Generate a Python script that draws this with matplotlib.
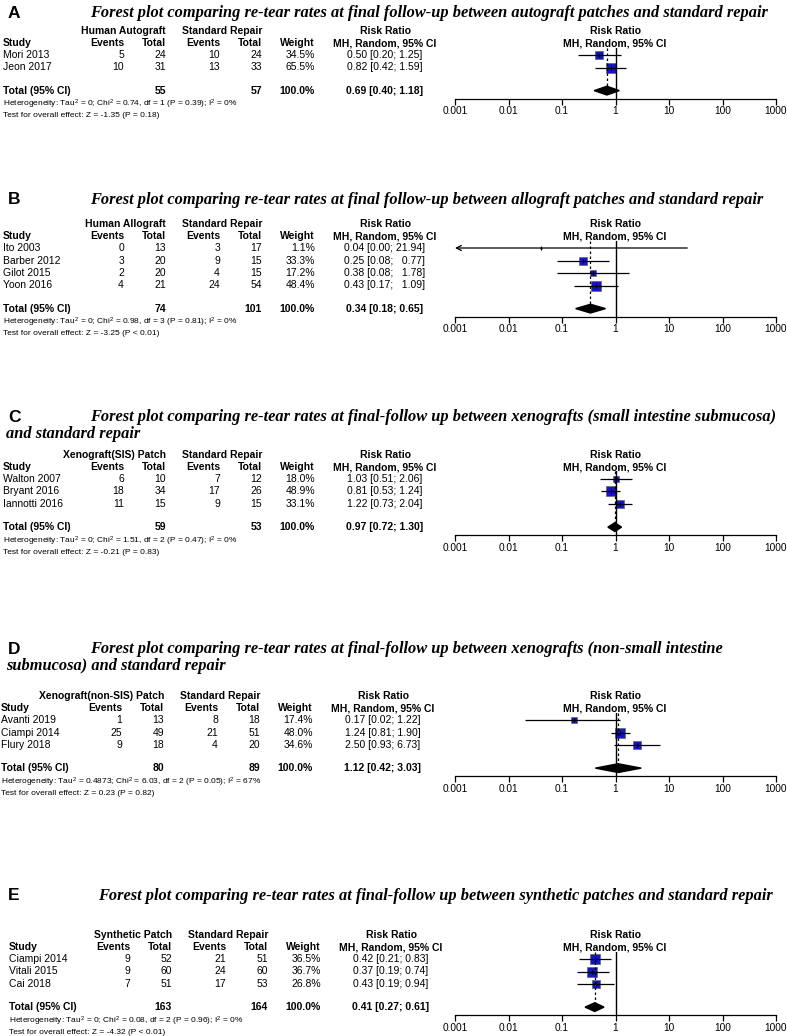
import numpy as np
import matplotlib.pyplot as plt
from matplotlib.transforms import Affine2D, blended_transform_factory
from matplotlib.ticker import NullLocator

# ---- values ----
# A: autograft vs standard repair
a_study = ["Mori 2013", "Jeon 2017"]
a_ev_exp = [5, 10]
a_n_exp = [24, 31]
a_ev_ctl = [10, 13]
a_n_ctl = [24, 33]
a_weight = [34.5, 65.5]
a_rr = [0.50, 0.82]
a_lo = [0.20, 0.42]
a_hi = [1.25, 1.59]
a_tot_n = [55, 57]
a_tot_ci = [0.69, 0.40, 1.18]
a_het = "Heterogeneity: Tau$^2$ = 0; Chi$^2$ = 0.74, df = 1 (P = 0.39); I$^2$ = 0%"
a_test = "Test for overall effect: Z = -1.35 (P = 0.18)"

# B: allograft vs standard repair
b_study = ["Ito 2003", "Barber 2012", "Gilot 2015", "Yoon 2016"]
b_ev_exp = [0, 3, 2, 4]
b_n_exp = [13, 20, 20, 21]
b_ev_ctl = [3, 9, 4, 24]
b_n_ctl = [17, 15, 15, 54]
b_weight = [1.1, 33.3, 17.2, 48.4]
b_rr = [0.04, 0.25, 0.38, 0.43]
b_lo = [0.00, 0.08, 0.08, 0.17]
b_hi = [21.94, 0.77, 1.78, 1.09]
b_tot_n = [74, 101]
b_tot_ci = [0.34, 0.18, 0.65]
b_het = "Heterogeneity: Tau$^2$ = 0; Chi$^2$ = 0.98, df = 3 (P = 0.81); I$^2$ = 0%"
b_test = "Test for overall effect: Z = -3.25 (P < 0.01)"

# C: SIS xenograft vs standard repair
c_study = ["Walton 2007", "Bryant 2016", "Iannotti 2016"]
c_ev_exp = [6, 18, 11]
c_n_exp = [10, 34, 15]
c_ev_ctl = [7, 17, 9]
c_n_ctl = [12, 26, 15]
c_weight = [18.0, 48.9, 33.1]
c_rr = [1.03, 0.81, 1.22]
c_lo = [0.51, 0.53, 0.73]
c_hi = [2.06, 1.24, 2.04]
c_tot_n = [59, 53]
c_tot_ci = [0.97, 0.72, 1.30]
c_het = "Heterogeneity: Tau$^2$ = 0; Chi$^2$ = 1.51, df = 2 (P = 0.47); I$^2$ = 0%"
c_test = "Test for overall effect: Z = -0.21 (P = 0.83)"

# D: non-SIS xenograft vs standard repair
d_study = ["Avanti 2019", "Ciampi 2014", "Flury 2018"]
d_ev_exp = [1, 25, 9]
d_n_exp = [13, 49, 18]
d_ev_ctl = [8, 21, 4]
d_n_ctl = [18, 51, 20]
d_weight = [17.4, 48.0, 34.6]
d_rr = [0.17, 1.24, 2.50]
d_lo = [0.02, 0.81, 0.93]
d_hi = [1.22, 1.90, 6.73]
d_tot_n = [80, 89]
d_tot_ci = [1.12, 0.42, 3.03]
d_het = "Heterogeneity: Tau$^2$ = 0.4873; Chi$^2$ = 6.03, df = 2 (P = 0.05); I$^2$ = 67%"
d_test = "Test for overall effect: Z = 0.23 (P = 0.82)"

# E: synthetic patch vs standard repair
e_study = ["Ciampi 2014", "Vitali 2015", "Cai 2018"]
e_ev_exp = [9, 9, 7]
e_n_exp = [52, 60, 51]
e_ev_ctl = [21, 24, 17]
e_n_ctl = [51, 60, 53]
e_weight = [36.5, 36.7, 26.8]
e_rr = [0.42, 0.37, 0.43]
e_lo = [0.21, 0.19, 0.19]
e_hi = [0.83, 0.74, 0.94]
e_tot_n = [163, 164]
e_tot_ci = [0.41, 0.27, 0.61]
e_het = "Heterogeneity: Tau$^2$ = 0; Chi$^2$ = 0.08, df = 2 (P = 0.96); I$^2$ = 0%"
e_test = "Test for overall effect: Z = -4.32 (P < 0.01)"

ticks = [0.001, 0.01, 0.1, 1, 10, 100, 1000]
tick_labels = ["0.001", "0.01", "0.1", "1", "10", "100", "1000"]

plt.rcParams['font.family'] = 'Liberation Sans'
plt.rcParams['mathtext.fontset'] = 'custom'
plt.rcParams['mathtext.rm'] = 'Liberation Sans'
plt.rcParams['mathtext.it'] = 'Liberation Sans:italic'
plt.rcParams['mathtext.bf'] = 'Liberation Sans:bold'
plt.rcParams['mathtext.default'] = 'regular'

W, H = 787, 1036
SP = 12.5          # row height in pixels
FS = 7.5           # table font size
fig = plt.figure(figsize=(W / 100, H / 100), dpi=100)
pix = Affine2D().scale(1 / W, -1 / H).translate(0, 1) + fig.transFigure


def panel(letter, title, ty, y0, group, study, ev_e, n_e, ev_c, n_c, weight,
          rr, lo, hi, tot_n, tot_ci, het, test, dx=0, tx=90, tsize=11.75):
    n = len(study)
    yt = n + 0.85
    ybot = yt + 0.65
    top_px = y0 - 0.6 * SP
    bot_px = y0 + ybot * SP
    ax = fig.add_axes([455 / W, 1 - bot_px / H, 321 / W, (bot_px - top_px) / H])
    ax.set_xscale('log')
    ax.set_xlim(1e-3, 1e3)
    ax.set_ylim(ybot, -0.6)
    tr = blended_transform_factory(pix, ax.transData)

    # title
    fig.text(8, ty, letter, transform=pix, fontsize=12.5, fontweight='bold', va='center')
    for k, line in enumerate(title):
        fig.text(tx if k == 0 else 6, ty + 17 * k, line, transform=pix, va='center',
                 family='Liberation Serif', fontweight='bold', style='italic', fontsize=tsize)

    # column x positions (pixels)
    xs, xe, xn, xce, xcn, xw, xci = 3 + dx, 124 + dx, 166 + dx, 220 + dx, 262 + dx, 315 + dx, 385 + dx

    def t(x, y, s, ha='right', bold=False, size=FS):
        fig.text(x, y, s, transform=tr, ha=ha, va='center', fontsize=size,
                 fontweight='bold' if bold else 'normal')

    # headers
    t(xn, -1.9, group, bold=True)
    t(xcn, -1.9, "Standard Repair", bold=True)
    t(xci, -1.9, "Risk Ratio", ha='center', bold=True)
    t(615, -1.9, "Risk Ratio", ha='center', bold=True)
    t(xs, -0.95, "Study", ha='left', bold=True)
    t(xe, -0.95, "Events", bold=True)
    t(xn, -0.95, "Total", bold=True)
    t(xce, -0.95, "Events", bold=True)
    t(xcn, -0.95, "Total", bold=True)
    t(xw, -0.95, "Weight", bold=True)
    t(xci, -0.95, "MH, Random, 95% CI", ha='center', bold=True)
    t(615, -0.95, "MH, Random, 95% CI", ha='center', bold=True)

    hw = max(len(f"{h:.2f}") for h in hi)
    wmax = max(weight)
    for i in range(n):
        t(xs, i, study[i], ha='left')
        t(xe, i, str(ev_e[i]))
        t(xn, i, str(n_e[i]))
        t(xce, i, str(ev_c[i]))
        t(xcn, i, str(n_c[i]))
        t(xw, i, f"{weight[i]:.1f}%")
        hs = f"{hi[i]:.2f}"
        t(xci, i, f"{rr[i]:.2f} [{lo[i]:.2f}; " + "  " * (hw - len(hs)) + hs + "]", ha='center')

        # CI line / arrow
        if lo[i] < 1e-3:
            ax.annotate('', xy=(1e-3, i), xytext=(min(hi[i], 1e3), i), annotation_clip=False,
                        arrowprops=dict(arrowstyle='->', lw=0.9, color='black',
                                        shrinkA=0, shrinkB=0, mutation_scale=9), zorder=3)
        else:
            ax.hlines(i, lo[i], hi[i], color='black', lw=0.9, zorder=3)
        side = 10 * np.sqrt(weight[i] / wmax) * 0.72
        ax.plot(rr[i], i, marker='s', ms=side, mfc='#1414c8', mec='#666666', mew=0.5,
                zorder=2, clip_on=False)
        ax.plot(rr[i], i, marker='|', ms=2.5, color='black', mew=0.8, zorder=4, clip_on=False)

    # totals
    t(xs, yt, "Total (95% CI)", ha='left', bold=True)
    t(xn, yt, str(tot_n[0]), bold=True)
    t(xcn, yt, str(tot_n[1]), bold=True)
    t(xw, yt, "100.0%", bold=True)
    t(xci, yt, f"{tot_ci[0]:.2f} [{tot_ci[1]:.2f}; {tot_ci[2]:.2f}]", ha='center', bold=True)
    t(xs, yt + 1.1, het, ha='left', size=6.0)
    t(xs, yt + 2.0, test, ha='left', size=6.0)

    ax.axvline(1, color='black', lw=1)
    ax.plot([tot_ci[0], tot_ci[0]], [-0.6, yt - 0.35], color='black', lw=0.9,
            ls=(0, (2, 2)))
    ax.fill([tot_ci[1], tot_ci[0], tot_ci[2], tot_ci[0]],
            [yt, yt - 0.35, yt, yt + 0.35], color='black', zorder=5)

    ax.set_xticks(ticks)
    ax.set_xticklabels(tick_labels)
    ax.xaxis.set_minor_locator(NullLocator())
    ax.set_yticks([])
    ax.tick_params(axis='x', direction='out', length=4, width=0.9, pad=1.5, labelsize=7.3)
    for s in ['top', 'right', 'left']:
        ax.spines[s].set_visible(False)
    ax.spines['bottom'].set_linewidth(0.9)
    ax.patch.set_alpha(0)


panel("A", ["Forest plot comparing re-tear rates at final follow-up between autograft patches and standard repair"],
      13, 55, "Human Autograft", a_study, a_ev_exp, a_n_exp, a_ev_ctl, a_n_ctl, a_weight,
      a_rr, a_lo, a_hi, a_tot_n, a_tot_ci, a_het, a_test)
panel("B", ["Forest plot comparing re-tear rates at final follow-up between allograft patches and standard repair"],
      200, 248, "Human Allograft", b_study, b_ev_exp, b_n_exp, b_ev_ctl, b_n_ctl, b_weight,
      b_rr, b_lo, b_hi, b_tot_n, b_tot_ci, b_het, b_test)
panel("C", ["Forest plot comparing re-tear rates at final-follow up between xenografts (small intestine submucosa)",
            "and standard repair"],
      417, 479, "Xenograft(SIS) Patch", c_study, c_ev_exp, c_n_exp, c_ev_ctl, c_n_ctl, c_weight,
      c_rr, c_lo, c_hi, c_tot_n, c_tot_ci, c_het, c_test)
panel("D", ["Forest plot comparing re-tear rates at final-follow up between xenografts (non-small intestine",
            "submucosa) and standard repair"],
      649, 720, "Xenograft(non-SIS) Patch", d_study, d_ev_exp, d_n_exp, d_ev_ctl, d_n_ctl, d_weight,
      d_rr, d_lo, d_hi, d_tot_n, d_tot_ci, d_het, d_test, dx=-2)
panel("E", ["Forest plot comparing re-tear rates at final-follow up between synthetic patches and standard repair"],
      896, 959, "Synthetic Patch", e_study, e_ev_exp, e_n_exp, e_ev_ctl, e_n_ctl, e_weight,
      e_rr, e_lo, e_hi, e_tot_n, e_tot_ci, e_het, e_test, dx=6, tx=98)

fig.savefig('out.png', dpi=100)
